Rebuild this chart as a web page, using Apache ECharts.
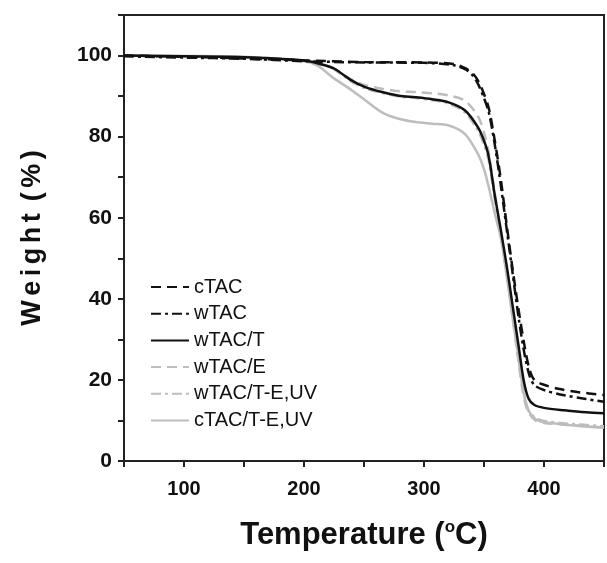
<!DOCTYPE html>
<html>
<head>
<meta charset="utf-8">
<script src="https://cdn.jsdelivr.net/npm/echarts@6/dist/echarts.min.js"></script>
<style>
  html, body { margin: 0; padding: 0; background: #fff; }
  #tga { width: 607px; height: 563px; }
</style>
</head>
<body>
<div id="tga"></div>
<script>
// 读图得到的数据: [温度 °C, 失重 %]
var seriesNames = ['cTAC', 'wTAC', 'wTAC/T', 'wTAC/E', 'wTAC/T-E,UV', 'cTAC/T-E,UV'];

var cTAC = [[50,100],[100,99.7],[150,99.3],[200,98.8],[250,98.4],[300,98.3],[325,97.9],[335,96.8],[340,95.8],[345,93.8],[350,90.5],[354,87],[359,79],[364,69.5],[369,58],[374,47],[379,37],[384,28],[388,22.5],[392,20],[400,18.8],[412,17.8],[428,17],[450,16.3]];
var wTAC = [[50,99.8],[100,99.5],[150,99.2],[200,98.6],[250,98.3],[300,98.2],[325,97.6],[335,96.5],[340,95.3],[345,93],[350,89.5],[354,86],[359,78],[364,68],[369,57],[374,46],[379,35],[384,26],[388,21],[392,18.7],[400,17.5],[417,16.2],[435,15.3],[450,14.6]];
var wTAC_T = [[50,100],[100,99.8],[150,99.6],[200,98.8],[215,97.8],[225,96.8],[240,93.8],[251,92.2],[265,91],[279,90.1],[293,89.7],[307,89.2],[320,88.5],[334,86.5],[345,82.3],[350,79],[354,75],[359,65.5],[364,57],[369,48],[374,38],[379,28],[383,20],[387,15.5],[392,13.8],[400,13.1],[417,12.5],[435,12],[450,11.8]];
var wTAC_E = [[50,100],[100,99.8],[150,99.6],[200,98.8],[215,97.8],[225,96.8],[240,94],[251,92.7],[265,91.8],[279,91.2],[293,91],[307,90.7],[320,90.2],[334,88.9],[345,85],[350,81],[354,76],[359,66],[364,56.5],[369,46],[374,35],[379,24],[383,16],[387,12],[393,10],[400,9.4],[420,8.9],[450,8.3]];
var wTAC_TEUV = [[50,100],[100,99.8],[150,99.6],[200,98.8],[215,97.8],[225,96.6],[240,93.5],[251,91.9],[265,90.8],[279,89.9],[293,89.5],[307,89],[320,88.2],[334,86],[345,81.5],[350,78],[354,74],[359,64.5],[364,55.5],[369,46],[374,35.5],[379,25],[383,17],[387,12.5],[393,10.6],[400,9.9],[420,9.2],[450,8.6]];
var cTAC_TEUV = [[50,100],[100,99.9],[150,99.7],[200,98.6],[212,97.4],[223,94.8],[240,91.4],[251,89],[265,86],[279,84.4],[293,83.6],[307,83.2],[320,82.8],[334,80.7],[345,75.7],[350,72],[354,67.5],[359,61],[364,55],[369,45.5],[374,35],[379,25],[383,17],[387,12.5],[393,10.3],[400,9.6],[420,8.9],[450,8.2]];

var allData = [cTAC, wTAC, wTAC_T, wTAC_E, wTAC_TEUV, cTAC_TEUV];
var lineColors = ['#111', '#111', '#111', '#bdbdbd', '#bdbdbd', '#bdbdbd'];
var lineTypes = [[10, 6], [10, 4, 3, 4], 'solid', [10, 6], [10, 4, 3, 4], 'solid'];

var font = "'Liberation Sans', Arial, sans-serif";

var myChart = echarts.init(document.getElementById('tga'));

var series = [];
for (var i = 0; i < allData.length; i++) {
    series.push({
        name: seriesNames[i],
        type: 'line',
        data: allData[i],
        symbol: 'none',
        smooth: 0.3,
        z: i < 3 ? 5 : 3,
        lineStyle: {
            color: lineColors[i],
            width: 2.5,
            type: lineTypes[i]
        },
        itemStyle: { color: lineColors[i] }
    });
}

var option = {
    backgroundColor: '#fff',
    animation: false,
    grid: {
        left: 124,
        right: 1,
        top: 15,
        bottom: 102,
        show: true,
        borderColor: '#222',
        borderWidth: 2
    },
    legend: {
        data: seriesNames,
        orient: 'vertical',
        left: 145,
        top: 272,
        itemWidth: 38,
        itemHeight: 14,
        itemGap: 6.7,
        itemStyle: { opacity: 0 },
        textStyle: {
            fontFamily: font,
            fontSize: 20,
            lineHeight: 20,
            color: '#111'
        }
    },
    xAxis: {
        type: 'value',
        min: 50,
        max: 450,
        interval: 50,
        name: 'Temperature ({sup|o}C)',
        nameLocation: 'middle',
        nameGap: 58,
        nameTextStyle: {
            fontFamily: font,
            fontWeight: 'bold',
            fontSize: 31,
            color: '#111',
            rich: {
                sup: {
                    fontFamily: font,
                    fontWeight: 'bold',
                    fontSize: 17,
                    verticalAlign: 'top',
                    padding: [0, 0, 16, 0],
                    color: '#111'
                }
            }
        },
        splitLine: { show: false },
        axisLine: { onZero: false, lineStyle: { color: '#222', width: 2 } },
        axisTick: { inside: false, length: 6, lineStyle: { color: '#222', width: 2 } },
        axisLabel: {
            margin: 18,
            fontFamily: font,
            fontWeight: 'bold',
            fontSize: 20,
            color: '#111',
            formatter: function (v) { return v % 100 === 0 ? String(v) : ''; }
        }
    },
    yAxis: {
        type: 'value',
        min: 0,
        max: 110,
        interval: 10,
        name: 'W\u2006e\u2006i\u2006g\u2006h\u2006t\u2006 (\u2006%\u2006)',
        nameLocation: 'middle',
        nameGap: 78,
        nameTextStyle: {
            fontFamily: font,
            fontWeight: 'bold',
            fontSize: 27,
            color: '#111'
        },
        splitLine: { show: false },
        axisLine: { onZero: false, lineStyle: { color: '#222', width: 2 } },
        axisTick: { inside: false, length: 6, lineStyle: { color: '#222', width: 2 } },
        axisLabel: {
            margin: 12,
            fontFamily: font,
            fontWeight: 'bold',
            fontSize: 21,
            color: '#111',
            formatter: function (v) { return v % 20 === 0 && v <= 100 ? String(v) : ''; }
        }
    },
    series: series
};
myChart.setOption(option);
</script>
</body>
</html>
